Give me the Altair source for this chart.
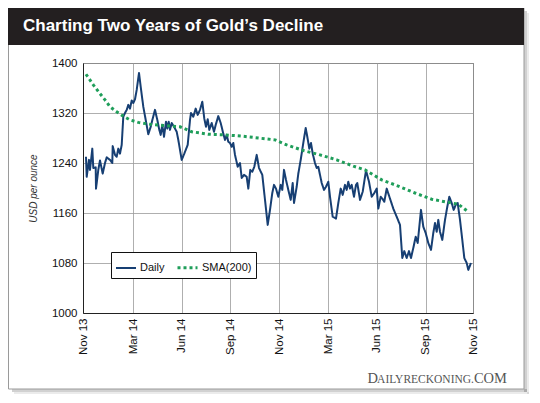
import altair as alt
import pandas as pd

# ---- data (session index 0..390 along the x axis, USD per ounce) ----
daily_t = [3, 3.7, 6, 7, 9.3, 10.3, 12.7, 13, 15.3, 17, 19.7, 22, 23.7, 27, 29.3, 29.7, 32, 33.7,
           35.3, 37, 38.7, 40.3, 42, 43.7, 45.3, 47, 48.7, 50.3, 52, 53.7, 56, 57.7, 60.3, 62.7,
           65.3, 67.7, 69.7, 72, 74.3, 76.3, 77.7, 79.3, 81, 83, 84.3, 85.7, 87, 88.7, 91, 93.7,
           95.3, 98.7, 101.3, 104.7, 107, 108, 110.3, 112.7, 114.7, 117, 119.3, 121.3, 123, 124.7,
           126.3, 128.7, 131, 132.7, 135.3, 137.7, 140.3, 142, 143.7, 145.3, 147, 148.7, 150.3,
           152, 154.7, 157, 158.7, 161, 163.7, 165.3, 167.3, 169.3, 171.3, 173.7, 176, 179.3,
           182, 184.7, 187, 189.3, 191, 193, 195.3, 197.7, 199.3, 201, 203, 205.3, 207.7, 209.7,
           211, 213.7, 215.3, 217.7, 220.3, 222.7, 224.3, 226.3, 228, 229.7, 232, 233.7, 235.3,
           237, 238.7, 241, 243, 245.3, 247, 249.7, 253, 255.3, 257.7, 259.7, 262, 263.7, 265.3,
           267, 268.7, 271, 273, 274.3, 277, 279.7, 283, 286, 288.7, 291.3, 293.7, 295.3, 297.7,
           299.3, 301.3, 303.7, 307, 310.3, 313.7, 317, 319.3, 321.3, 323.7, 326, 328, 330.3,
           332.7, 334.7, 336, 338, 340.3, 342.7, 345.3, 348, 350.3, 352, 353.7, 355.3, 357,
           359.3, 362, 364.3, 366.3, 368.7, 370.7, 372.7, 374.7, 377, 379.3, 381.3, 383.7,
           385.3, 388]
daily_usd = [1250, 1218, 1245, 1229, 1263, 1232, 1233, 1199, 1229, 1244, 1223, 1240, 1249, 1245,
             1240, 1267, 1253, 1250, 1263, 1255, 1269, 1314, 1320, 1325, 1333, 1327, 1340, 1336,
             1342, 1357, 1384, 1362, 1330, 1309, 1286, 1298, 1311, 1325, 1309, 1293, 1285, 1301,
             1282, 1306, 1295, 1306, 1293, 1304, 1298, 1290, 1277, 1245, 1255, 1269, 1309, 1320,
             1314, 1327, 1317, 1325, 1338, 1311, 1298, 1310, 1293, 1304, 1290, 1301, 1315, 1304,
             1287, 1277, 1285, 1274, 1272, 1266, 1272, 1253, 1234, 1240, 1216, 1221, 1218, 1199,
             1229, 1226, 1234, 1253, 1232, 1221, 1181, 1141, 1165, 1192, 1205, 1199, 1186, 1205,
             1197, 1229, 1213, 1197, 1181, 1208, 1176, 1202, 1223, 1245, 1272, 1296, 1282, 1263,
             1272, 1255, 1240, 1232, 1234, 1221, 1208, 1197, 1202, 1210, 1186, 1154, 1151, 1176,
             1199, 1189, 1205, 1197, 1210, 1199, 1205, 1186, 1205, 1208, 1181, 1194, 1228, 1210,
             1186, 1192, 1199, 1167, 1186, 1183, 1178, 1199, 1183, 1167, 1154, 1141, 1088, 1099,
             1088, 1099, 1088, 1104, 1122, 1112, 1133, 1165, 1138, 1128, 1112, 1101, 1128, 1144,
             1130, 1149, 1130, 1117, 1149, 1170, 1186, 1176, 1165, 1173, 1176, 1149, 1117, 1088,
             1080, 1069, 1080]
sma_t = [3, 10.3, 17, 22, 27, 33.7, 40.3, 47, 55.3, 67, 80.3, 97, 108.7, 125.3, 142, 158.7,
         175.3, 192, 203.7, 220.3, 237, 253.7, 270.3, 282, 298.7, 315.3, 332, 348.7, 362, 375.3,
         385.3]
sma_usd = [1382, 1365, 1351, 1341, 1330, 1322, 1315, 1309, 1305, 1302, 1300, 1298, 1290, 1286,
           1285, 1283, 1280, 1277, 1269, 1260, 1253, 1245, 1235, 1229, 1213, 1203, 1192, 1182,
           1178, 1174, 1162]
series_names = ["Daily", "SMA(200)"]
x_tick_pos = [0, 50, 98.5, 147, 196, 245, 293.5, 342.5, 390]
x_tick_labels = ["Nov 13", "Mar 14", "Jun 14", "Sep 14", "Nov 14", "Mar 15", "Jun 15", "Sep 15", "Nov 15"]
y_ticks = [1000, 1080, 1160, 1240, 1320, 1400]

df = pd.concat([
    pd.DataFrame({"t": daily_t, "usd": daily_usd, "series": series_names[0]}),
    pd.DataFrame({"t": sma_t, "usd": sma_usd, "series": series_names[1]}),
])

label_expr = "".join(f"datum.value == {p} ? '{l}' : " for p, l in zip(x_tick_pos, x_tick_labels)) + "''"

FONT = "Liberation Sans"
NAVY = "#173f73"
GREEN = "#1f9e5a"

legend_kw = dict(title=None, orient="none", legendX=28, legendY=189,
                 direction="horizontal", strokeColor="#111", fillColor="white", padding=4,
                 labelFont=FONT, labelFontSize=11, labelColor="#111",
                 symbolStrokeWidth=2.5, symbolSize=400, columnPadding=6, labelOffset=3)

lines = alt.Chart(df).mark_line(strokeCap="butt", strokeJoin="round").encode(
    x=alt.X("t:Q", scale=alt.Scale(domain=[0, 390], nice=False, zero=False),
            axis=alt.Axis(values=x_tick_pos, labelExpr=label_expr, labelAngle=270,
                          title=None, ticks=False, labelPadding=5, labelFontSize=11.5,
                          labelFont=FONT, labelColor="#111", domainColor="#222",
                          gridColor="#9a9a9a", gridWidth=0.8)),
    y=alt.Y("usd:Q", scale=alt.Scale(domain=[1000, 1400], nice=False, zero=False),
            axis=alt.Axis(values=y_ticks, format="d", title="USD per ounce", titleFontStyle="italic",
                          titleFontWeight="normal", titleFontSize=10, titleFont=FONT,
                          titleColor="#333", titlePadding=13, ticks=False, labelPadding=6,
                          labelFontSize=11.5, labelFont=FONT, labelColor="#111",
                          domainColor="#222", gridColor="#9a9a9a", gridWidth=0.8)),
    color=alt.Color("series:N", scale=alt.Scale(domain=series_names, range=[NAVY, GREEN]),
                    legend=alt.Legend(**legend_kw)),
    strokeDash=alt.StrokeDash("series:N", scale=alt.Scale(domain=series_names, range=[[1, 0], [3, 3]]),
                              legend=alt.Legend(**legend_kw)),
    strokeWidth=alt.StrokeWidth("series:N", scale=alt.Scale(domain=series_names, range=[2, 3]),
                                legend=None),
    order="t:Q",
)

one = pd.DataFrame({"k": [0]})

def box(x, x2, y, y2, **kw):
    return alt.Chart(one).mark_rect(**kw).encode(
        x=alt.value(x), x2=alt.value(x2), y=alt.value(y), y2=alt.value(y2))

shadow = alt.layer(
    box(441, 444, -52, 329, color="#000", opacity=0.18),
    box(444, 446, -50, 331, color="#000", opacity=0.08),
    box(-71, 444, 326, 329, color="#000", opacity=0.18),
    box(-69, 446, 329, 331, color="#000", opacity=0.08),
)
card = box(-74.5, 441, -55, 326, fillOpacity=0, stroke="#9a9a9a", strokeWidth=1)
title_bar = box(-75, 441, -59, -18, color="#231f20")
title_text = alt.Chart(one).mark_text(
    text="Charting Two Years of Gold\u2019s Decline", font=FONT, fontSize=17, fontWeight="bold",
    color="white", align="left", baseline="alphabetic").encode(x=alt.value(-60), y=alt.value(-32))

wm_kw = dict(font="Liberation Serif", color="#555", align="right", baseline="alphabetic")
watermark = alt.layer(
    alt.Chart(one).mark_text(text="COM", fontSize=14.5, **wm_kw).encode(x=alt.value(424), y=alt.value(320)),
    alt.Chart(one).mark_text(text="AILYRECKONING.", fontSize=11.5, **wm_kw).encode(x=alt.value(391), y=alt.value(320)),
    alt.Chart(one).mark_text(text="D", fontSize=14.5, **wm_kw).encode(x=alt.value(295), y=alt.value(320)),
)

chart = alt.layer(shadow, card, title_bar, title_text, watermark, lines).properties(
    width=390, height=250,
    autosize=alt.AutoSizeParams(type="none"),
    padding={"left": 75, "top": 55, "right": 59, "bottom": 82},
    background="white",
).configure_view(stroke="#555", strokeWidth=1)

chart.save("out.html", embed_options={"renderer": "svg", "actions": False})
